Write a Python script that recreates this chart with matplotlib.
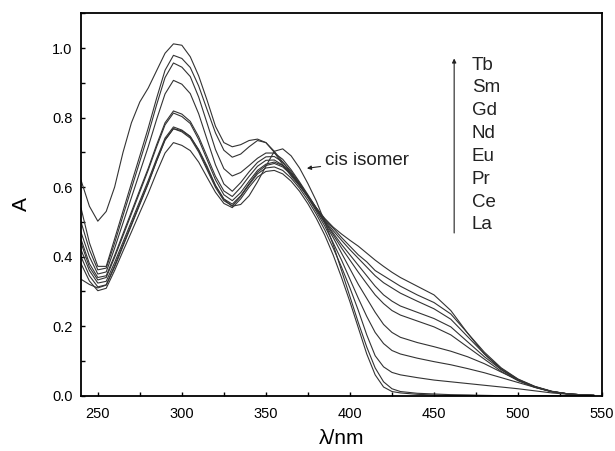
import matplotlib.pyplot as plt
from matplotlib.ticker import MultipleLocator

# wavelength grid (nm)
wl = [240, 245, 250, 255, 260, 265, 270, 275, 280, 285, 290, 295, 300, 305, 310,
      315, 320, 325, 330, 335, 340, 345, 350, 355, 360, 365, 370, 375, 380, 385,
      390, 395, 400, 405, 410, 415, 420, 425, 430, 440, 450, 460, 470, 480, 490,
      500, 510, 520, 530, 540, 545]

# absorbance
ligand = [0.62, 0.545, 0.502, 0.53, 0.60, 0.70, 0.785, 0.845, 0.885, 0.935, 0.985, 1.012, 1.008, 0.975, 0.92,
          0.85, 0.775, 0.728, 0.716, 0.722, 0.734, 0.738, 0.728, 0.703, 0.672, 0.64, 0.607, 0.575, 0.54, 0.51,
          0.485, 0.465, 0.447, 0.43, 0.41, 0.39, 0.372, 0.355, 0.34, 0.315, 0.29, 0.245, 0.18, 0.12, 0.075,
          0.045, 0.025, 0.012, 0.005, 0.002, 0.001]
tb = [0.54, 0.44, 0.372, 0.372, 0.451, 0.531, 0.611, 0.69, 0.77, 0.856, 0.936, 0.979, 0.97, 0.944, 0.891,
      0.823, 0.756, 0.706, 0.686, 0.695, 0.716, 0.734, 0.728, 0.70, 0.665, 0.632, 0.603, 0.572, 0.54, 0.508,
      0.482, 0.455, 0.43, 0.405, 0.385, 0.36, 0.345, 0.33, 0.315, 0.29, 0.268, 0.235, 0.18, 0.125, 0.08,
      0.048, 0.027, 0.013, 0.005, 0.002, 0.001]
sm = [0.50, 0.42, 0.362, 0.367, 0.439, 0.518, 0.596, 0.674, 0.752, 0.837, 0.915, 0.957, 0.945, 0.918, 0.859,
      0.784, 0.708, 0.653, 0.632, 0.642, 0.662, 0.683, 0.698, 0.698, 0.68, 0.65, 0.615, 0.578, 0.54, 0.505,
      0.475, 0.447, 0.42, 0.395, 0.37, 0.345, 0.325, 0.31, 0.295, 0.272, 0.25, 0.22, 0.17, 0.12, 0.078,
      0.047, 0.026, 0.012, 0.005, 0.002, 0.001]
gd = [0.47, 0.40, 0.35, 0.356, 0.424, 0.497, 0.57, 0.643, 0.716, 0.795, 0.868, 0.907, 0.896, 0.869, 0.811,
      0.737, 0.664, 0.609, 0.588, 0.613, 0.644, 0.671, 0.687, 0.688, 0.672, 0.645, 0.612, 0.575, 0.538, 0.502,
      0.468, 0.435, 0.405, 0.375, 0.345, 0.315, 0.29, 0.272, 0.258, 0.24, 0.222, 0.198, 0.155, 0.112, 0.075,
      0.045, 0.025, 0.012, 0.005, 0.002, 0.001]
nd = [0.45, 0.38, 0.34, 0.345, 0.403, 0.466, 0.529, 0.592, 0.654, 0.722, 0.785, 0.819, 0.81, 0.789, 0.745,
      0.688, 0.631, 0.589, 0.573, 0.599, 0.631, 0.66, 0.677, 0.678, 0.663, 0.638, 0.607, 0.572, 0.536, 0.50,
      0.463, 0.425, 0.39, 0.355, 0.322, 0.29, 0.265, 0.245, 0.232, 0.215, 0.198, 0.175, 0.14, 0.105, 0.07,
      0.043, 0.024, 0.011, 0.005, 0.002, 0.001]
eu = [0.44, 0.37, 0.333, 0.34, 0.398, 0.46, 0.523, 0.586, 0.649, 0.716, 0.779, 0.813, 0.803, 0.783, 0.737,
      0.679, 0.621, 0.578, 0.561, 0.584, 0.617, 0.648, 0.666, 0.672, 0.662, 0.64, 0.61, 0.574, 0.535, 0.496,
      0.455, 0.41, 0.365, 0.32, 0.28, 0.24, 0.205, 0.182, 0.168, 0.153, 0.141, 0.128, 0.112, 0.092, 0.068,
      0.045, 0.026, 0.012, 0.005, 0.002, 0.001]
pr = [0.42, 0.36, 0.324, 0.329, 0.383, 0.442, 0.501, 0.56, 0.619, 0.682, 0.741, 0.773, 0.764, 0.746, 0.706,
      0.655, 0.604, 0.566, 0.551, 0.575, 0.61, 0.643, 0.662, 0.668, 0.658, 0.636, 0.606, 0.57, 0.53, 0.488,
      0.44, 0.39, 0.335, 0.28, 0.228, 0.182, 0.15, 0.13, 0.12, 0.108, 0.098, 0.089, 0.078, 0.066, 0.052,
      0.038, 0.024, 0.012, 0.005, 0.002, 0.001]
ce = [0.40, 0.345, 0.313, 0.319, 0.374, 0.434, 0.493, 0.553, 0.612, 0.676, 0.736, 0.768, 0.759, 0.741, 0.701,
      0.65, 0.599, 0.561, 0.546, 0.573, 0.607, 0.638, 0.655, 0.658, 0.648, 0.626, 0.597, 0.562, 0.522, 0.477,
      0.425, 0.37, 0.31, 0.245, 0.175, 0.115, 0.083, 0.067, 0.06, 0.052, 0.045, 0.04, 0.035, 0.03, 0.025,
      0.02, 0.014, 0.008, 0.004, 0.001, 0.0]
la = [0.38, 0.33, 0.302, 0.309, 0.36, 0.416, 0.471, 0.527, 0.582, 0.642, 0.698, 0.728, 0.72, 0.705, 0.672,
      0.628, 0.585, 0.553, 0.541, 0.566, 0.60, 0.629, 0.645, 0.648, 0.638, 0.617, 0.588, 0.552, 0.51, 0.462,
      0.405, 0.34, 0.27, 0.195, 0.12, 0.06, 0.025, 0.012, 0.008, 0.004, 0.002, 0.001, 0.001, 0.0, 0.0,
      0.0, 0.0, 0.0, 0.0, 0.0, 0.0]
cis = [0.335, 0.32, 0.31, 0.318, 0.37, 0.43, 0.49, 0.55, 0.61, 0.675, 0.735, 0.768, 0.762, 0.745, 0.708,
       0.66, 0.605, 0.565, 0.545, 0.55, 0.575, 0.615, 0.66, 0.703, 0.71, 0.69, 0.655, 0.61, 0.56, 0.50,
       0.435, 0.36, 0.285, 0.21, 0.14, 0.08, 0.04, 0.02, 0.012, 0.007, 0.005, 0.003, 0.002, 0.001, 0.0,
       0.0, 0.0, 0.0, 0.0, 0.0, 0.0]

spectra = [ligand, tb, sm, gd, nd, eu, pr, ce, la, cis]
ions = ['Tb', 'Sm', 'Gd', 'Nd', 'Eu', 'Pr', 'Ce', 'La']

plt.rcParams['font.family'] = ['Liberation Sans', 'DejaVu Sans']

fig = plt.figure(figsize=(6.15, 4.51), dpi=100)
ax = fig.add_axes([0.1317, 0.1226, 0.8473, 0.848])

for s in spectra:
    ax.plot(wl, s, color='#333333', lw=0.8)

ax.set_xlim(240, 550)
ax.set_ylim(0, 1.1)
ax.xaxis.set_major_locator(MultipleLocator(50))
ax.xaxis.set_minor_locator(MultipleLocator(25))
ax.yaxis.set_major_locator(MultipleLocator(0.2))
ax.yaxis.set_minor_locator(MultipleLocator(0.1))
ax.yaxis.set_major_formatter(plt.FuncFormatter(lambda v, p: f'{v:.1f}'))
ax.tick_params(which='both', direction='in', length=3, width=1, labelsize=10.5)
ax.tick_params(axis='x', pad=8)
ax.tick_params(axis='y', pad=6)
for sp in ax.spines.values():
    sp.set_linewidth(1.3)

ax.set_xlabel('λ/nm', fontsize=15, labelpad=6)
ax.set_ylabel('A', fontsize=15, labelpad=15)

# series order arrow and labels
ax.annotate('', xy=(462, 0.97), xytext=(462, 0.468),
            arrowprops=dict(arrowstyle='-|>', color='#222222', lw=0.8,
                            mutation_scale=6, shrinkA=0, shrinkB=0))
for i, name in enumerate(ions):
    ax.text(472.5, 0.951 - i * 0.0657, name, fontsize=13.5, va='center', ha='left',
            color='#222222')

ax.annotate('cis isomer', xy=(374.4, 0.654), xytext=(385, 0.677),
            fontsize=13.5, va='center', ha='left', color='#222222',
            arrowprops=dict(arrowstyle='-|>', color='#222222', lw=0.8,
                            mutation_scale=6, shrinkA=1, shrinkB=0))

fig.savefig('out.png', dpi=100)
